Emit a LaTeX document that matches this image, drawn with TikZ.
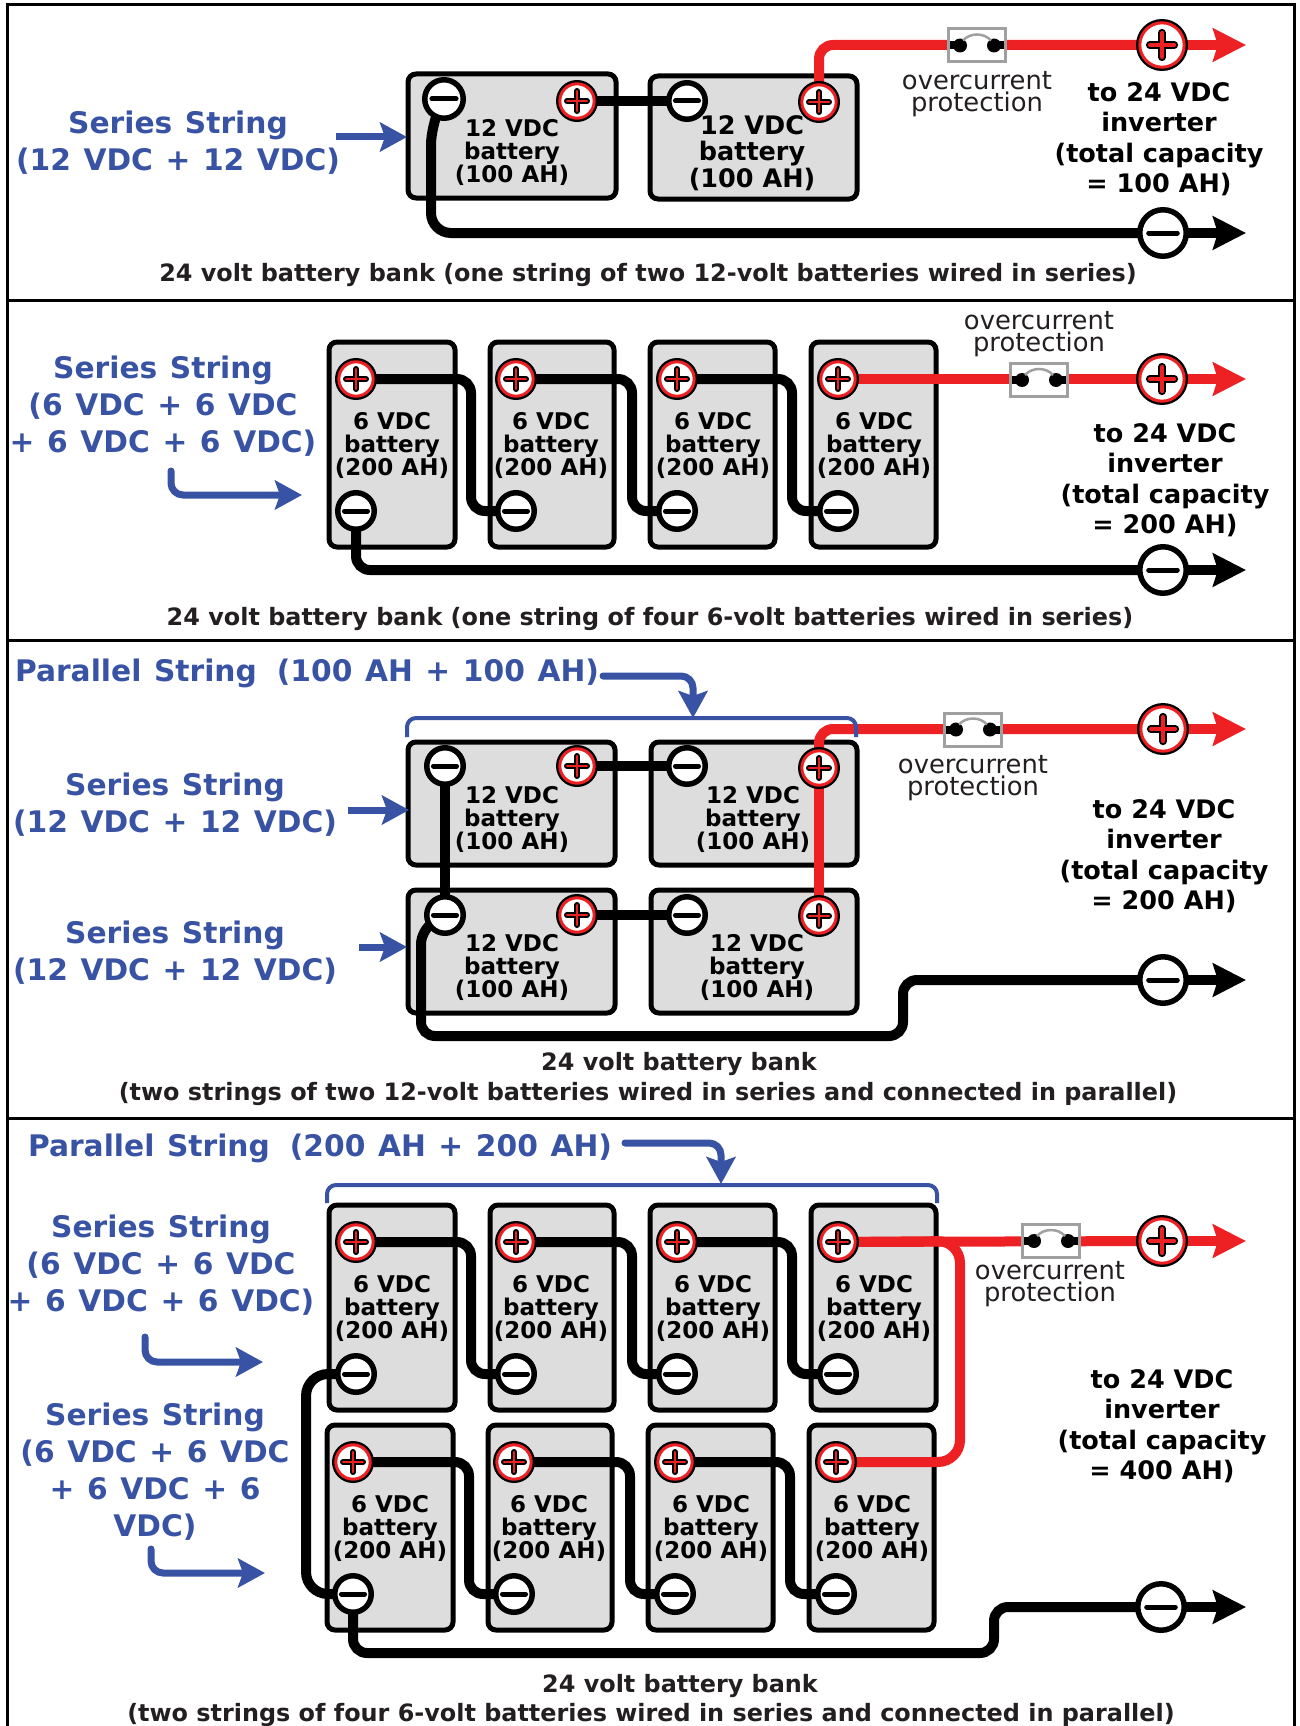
\documentclass[tikz,border=0pt]{standalone}
\usepackage{fontspec}
\usetikzlibrary{arrows.meta}
\setmainfont{DejaVu Sans}
\newfontfamily\medf{DejaVu Sans Bold}
\newcommand\bluespace{\spaceskip=12.6pt\relax}
\definecolor{bluetxt}{HTML}{3953A4}
\definecolor{wirered}{HTML}{ED2024}
\definecolor{battfill}{HTML}{DCDDDC}
\definecolor{inktxt}{HTML}{231F20}
\definecolor{fusegray}{HTML}{A0A0A0}
\pgfdeclarelayer{batt}\pgfdeclarelayer{wires}\pgfsetlayers{batt,wires,main}
\tikzset{
 batterybox/.style={draw=black,fill=battfill,line width=5pt,rounded corners=8pt,inner sep=0pt,outer sep=0pt},
 plusterm/.style={circle,draw=black,fill=white,line width=3pt,inner sep=0pt,outer sep=0pt},
 minusterm/.style={circle,draw=black,fill=white,line width=5.5pt,inner sep=0pt,outer sep=0pt},
 blackwire/.style={draw=black,line width=10pt,rounded corners=14pt},
 redwire/.style={draw=wirered,line width=10pt,rounded corners=14pt},
 blacktip/.style={draw=black,line width=10pt,-{Stealth[length=33pt,width=33pt,inset=5pt]}},
 redtip/.style={draw=wirered,line width=10pt,-{Stealth[length=33pt,width=33pt,inset=5pt]}},
 blueline/.style={draw=bluetxt,line width=7pt,rounded corners=12pt,line cap=round,-{Stealth[length=27pt,width=29pt,inset=5pt]}},
 bracket/.style={draw=bluetxt,line width=4pt,rounded corners=9pt},
 fusebox/.style={rectangle,draw=fusegray,fill=white,line width=3pt,inner sep=0pt,outer sep=0pt},
 frameline/.style={draw=black,line width=3pt},
 battlabel/.style={align=center,text=black,inner sep=0pt,font=\medf\fontsize{23}{23}\selectfont},
 fuselabel/.style={align=center,text=inktxt,inner sep=0pt,font=\fontsize{25.8}{22}\selectfont},
 invlabel/.style={align=center,text=black,inner sep=0pt,font=\medf\fontsize{25.5}{30.5}\selectfont},
 caption/.style={align=center,text=inktxt,inner sep=0pt,font=\medf\fontsize{23.9}{30}\selectfont},
 bluelabel/.style={align=center,text=bluetxt,inner sep=0pt,font=\medf\fontsize{29.7}{37}\selectfont,execute at begin node=\bluespace},
}
\newcommand\Batt[5]{\begin{pgfonlayer}{batt}
 \pgfmathsetmacro\bw{#4-#2-2}\pgfmathsetmacro\bh{#5-#3-2}
 \pgfmathsetmacro\bx{(#2+#4)/2}\pgfmathsetmacro\by{(#3+#5)/2}
 \node[batterybox,minimum width=\bw pt,minimum height=\bh pt] (#1) at (\bx,\by) {};
 \end{pgfonlayer}}
\newcommand\PlusT[4]{%
 \pgfmathsetmacro\ps{2*#4-3}\pgfmathsetmacro\pa{#4*0.47}\pgfmathsetmacro\pr{#4-3.8}\pgfmathsetmacro\pk{#4*0.30}\pgfmathsetmacro\pw{#4*0.14}
 \node[plusterm,minimum size=\ps pt] (#1) at (#2,#3) {};
 \draw[wirered,line width=3pt] (#1.center) circle[radius=\pr pt];
 \draw[black,line width=\pk pt,line cap=round] ([xshift=-\pa pt]#1.center) -- ([xshift=\pa pt]#1.center);
 \draw[black,line width=\pk pt,line cap=round] ([yshift=-\pa pt]#1.center) -- ([yshift=\pa pt]#1.center);
 \draw[wirered,line width=\pw pt,line cap=round] ([xshift=-\pa pt]#1.center) -- ([xshift=\pa pt]#1.center);
 \draw[wirered,line width=\pw pt,line cap=round] ([yshift=-\pa pt]#1.center) -- ([yshift=\pa pt]#1.center);
}
\newcommand\MinusT[4]{%
 \pgfmathsetmacro\ms{2*#4-5.5}\pgfmathsetmacro\ma{#4*0.55}
 \node[minusterm,minimum size=\ms pt] (#1) at (#2,#3) {};
 \draw[black,line width=5pt,line cap=round] ([xshift=-\ma pt]#1.center) -- ([xshift=\ma pt]#1.center);
}
\newcommand\Fuse[3]{%
 \node[fusebox,minimum width=57pt,minimum height=33pt] (#1) at (#2,#3) {};
 \draw[black,line width=8pt] ([xshift=-27pt]#1.center) -- ([xshift=-17pt]#1.center);
 \draw[black,line width=8pt] ([xshift=27pt]#1.center) -- ([xshift=17pt]#1.center);
 \fill[black] ([xshift=-17pt]#1.center) circle[radius=7pt];
 \fill[black] ([xshift=17pt]#1.center) circle[radius=7pt];
 \draw[fusegray,line width=2.5pt] ([xshift=-14pt,yshift=5pt]#1.center) .. controls ([xshift=-7pt,yshift=13pt]#1.center) and ([xshift=7pt,yshift=13pt]#1.center) .. ([xshift=14pt,yshift=5pt]#1.center);
}
\begin{document}
\begin{tikzpicture}[x=1pt,y=-1pt]
\useasboundingbox (0,0) rectangle (1299,1726);
% frame
\coordinate (ftl) at (7,5); \coordinate (ftr) at (1294,5); \coordinate (fbl) at (7,1726); \coordinate (fbr) at (1294,1726);
\draw[frameline] (fbl) -- (ftl) -- (ftr) -- (fbr);
\coordinate (s1l) at (7,300); \coordinate (s1r) at (1294,300);
\coordinate (s2l) at (7,640); \coordinate (s2r) at (1294,640);
\coordinate (s3l) at (7,1118); \coordinate (s3r) at (1296,1118);
\draw[frameline] (s1l) -- (s1r);
\draw[frameline] (s2l) -- (s2r);
\draw[frameline] (s3l) -- (s3r);

% ===== PANEL 1
\Batt{ab1}{407}{73}{617}{199}
\Batt{ab2}{649}{75}{858}{200}
\MinusT{aM1}{444}{99}{22}
\PlusT{aP1}{577}{101}{21}
\MinusT{aM2}{687}{101}{21}
\PlusT{aP2}{819}{102}{21}
\PlusT{aRP}{1162}{45}{26}
\MinusT{aRM}{1163}{233}{26}
\Fuse{aF}{977}{45.5}
\coordinate (aTP) at (1246,45); \coordinate (aTM) at (1246,233);
\begin{pgfonlayer}{wires}
\draw[blackwire] (aP1.center) -- (aM2.center);
\draw[blackwire,rounded corners=20pt] (aM1.center) -- (431,125) -- (431,233) -- (aRM.center);
\draw[redwire] (aP2.center) -- (819,45) -- (aRP.center);
\draw[redtip] (aRP.center) -- (aTP);
\draw[blacktip] (aRM.center) -- (aTM);
\end{pgfonlayer}
\node[battlabel] (at1) at (512,152) {12 VDC\\battery\\(100 AH)};
\node[battlabel,font=\medf\fontsize{25.5}{26.5}\selectfont] (at2) at (752,153) {12 VDC\\battery\\(100 AH)};
\node[fuselabel] (aFl) at (977,94) {overcurrent\\protection};
\node[invlabel] (aInv) at (1159,139) {to 24 VDC\\inverter\\(total capacity\\= 100 AH)};
\node[bluelabel] (aSer) at (178,143) {Series String\\(12 VDC + 12 VDC)};
\coordinate (aAs) at (336,137); \coordinate (aAe) at (407,137);
\draw[blueline,line cap=butt] (aAs) -- (aAe);
\node[caption] (aCap) at (648,275) {24 volt battery bank (one string of two 12-volt batteries wired in series)};

% ===== PANEL 2
\Batt{bb1}{328}{341}{456}{548}
\Batt{bb2}{489}{341}{615}{548}
\Batt{bb3}{649}{341}{776}{548}
\Batt{bb4}{810}{341}{937}{548}
\PlusT{bP1}{356}{379}{21}\PlusT{bP2}{516}{379}{21}\PlusT{bP3}{677}{379}{21}\PlusT{bP4}{838}{379}{21}
\MinusT{bM1}{356}{511}{21}\MinusT{bM2}{516}{511}{21}\MinusT{bM3}{677}{511}{21}\MinusT{bM4}{838}{511}{21}
\PlusT{bRP}{1162}{379}{26}
\MinusT{bRM}{1163}{570}{26}
\Fuse{bF}{1039}{380}
\coordinate (bTP) at (1246,379); \coordinate (bTM) at (1246,570);
\begin{pgfonlayer}{wires}
\draw[blackwire] (bP1.center) -- (471,379) -- (471,511) -- (bM2.center);
\draw[blackwire] (bP2.center) -- (632,379) -- (632,511) -- (bM3.center);
\draw[blackwire] (bP3.center) -- (792,379) -- (792,511) -- (bM4.center);
\draw[redwire] (bP4.center) -- (bRP.center);
\draw[blackwire] (bM1.center) -- (356,570) -- (bRM.center);
\draw[redtip] (bRP.center) -- (bTP);
\draw[blacktip] (bRM.center) -- (bTM);
\end{pgfonlayer}
\node[battlabel] (bt1) at (392,445) {6 VDC\\battery\\(200 AH)};
\node[battlabel] (bt2) at (551,445) {6 VDC\\battery\\(200 AH)};
\node[battlabel] (bt3) at (713,445) {6 VDC\\battery\\(200 AH)};
\node[battlabel] (bt4) at (874,445) {6 VDC\\battery\\(200 AH)};
\node[fuselabel] (bFl) at (1039,334.5) {overcurrent\\protection};
\node[invlabel] (bInv) at (1165,480) {to 24 VDC\\inverter\\(total capacity\\= 200 AH)};
\node[bluelabel] (bSer) at (163,406) {Series String\\(6 VDC + 6 VDC\\+ 6 VDC + 6 VDC)};
\coordinate (bAs) at (171,471); \coordinate (bAe) at (302,495);
\draw[blueline] (bAs) -- (171,495) -- (bAe);
\node[caption] (bCap) at (650,619) {24 volt battery bank (one string of four 6-volt batteries wired in series)};

% ===== PANEL 3
\Batt{cb1}{407}{741}{616}{866}
\Batt{cb2}{650}{741}{858}{866}
\Batt{cb3}{407}{889}{616}{1014}
\Batt{cb4}{650}{889}{858}{1014}
\MinusT{cM1}{445}{766}{21}\PlusT{cP1}{577}{766}{21}\MinusT{cM2}{687}{766}{21}\PlusT{cP2}{819}{768}{21}
\MinusT{cM3}{445}{915}{21}\PlusT{cP3}{577}{915}{21}\MinusT{cM4}{687}{915}{21}\PlusT{cP4}{819}{916}{21}
\PlusT{cRP}{1163}{729}{26}
\MinusT{cRM}{1163}{980}{26}
\Fuse{cF}{973}{729.5}
\coordinate (cTP) at (1246,729); \coordinate (cTM) at (1246,980);
\begin{pgfonlayer}{wires}
\draw[blackwire] (cP1.center) -- (cM2.center);
\draw[blackwire] (cP3.center) -- (cM4.center);
\draw[blackwire] (cM1.center) -- (cM3.center);
\draw[redwire] (cP2.center) -- (819,729) -- (cRP.center);
\draw[redwire] (cP2.center) -- (cP4.center);
\draw[blackwire] (cM3.center) -- (421,930) -- (421,1036) -- (903,1036) -- (903,980) -- (cRM.center);
\draw[redtip] (cRP.center) -- (cTP);
\draw[blacktip] (cRM.center) -- (cTM);
\end{pgfonlayer}
\node[battlabel] (ct1) at (512,819) {12 VDC\\battery\\(100 AH)};
\node[battlabel] (ct2) at (753,819) {12 VDC\\battery\\(100 AH)};
\node[battlabel] (ct3) at (512,967) {12 VDC\\battery\\(100 AH)};
\node[battlabel] (ct4) at (757,967) {12 VDC\\battery\\(100 AH)};
\node[fuselabel] (cFl) at (973,778) {overcurrent\\protection};
\node[invlabel] (cInv) at (1164,856) {to 24 VDC\\inverter\\(total capacity\\= 200 AH)};
\node[bluelabel] (cPar) at (307,673) {Parallel String\hspace{20pt}(100 AH + 100 AH)};
\node[bluelabel] (cS1) at (175,805) {Series String\\(12 VDC + 12 VDC)};
\node[bluelabel] (cS2) at (175,953) {Series String\\(12 VDC + 12 VDC)};
\coordinate (cA1) at (348,810); \coordinate (cA1e) at (409,810);
\coordinate (cA2) at (359,947); \coordinate (cA2e) at (407,947);
\draw[blueline,line cap=butt] (cA1) -- (cA1e);
\draw[blueline,line cap=butt] (cA2) -- (cA2e);
\coordinate (cPs) at (603,676); \coordinate (cPe) at (693,718);
\draw[blueline] (cPs) -- (693,676) -- (cPe);
\coordinate (cB1) at (407,737); \coordinate (cB2) at (856,737);
\draw[bracket] (cB1) -- (407,718) -- (856,718) -- (cB2);
\node[caption] (cCapa) at (679,1064) {24 volt battery bank};
\node[caption] (cCapb) at (648,1094) {(two strings of two 12-volt batteries wired in series and connected in parallel)};

% ===== PANEL 4
\Batt{db1}{328}{1204}{456}{1411}
\Batt{db2}{489}{1204}{615}{1411}
\Batt{db3}{649}{1204}{776}{1411}
\Batt{db4}{810}{1204}{937}{1411}
\Batt{db5}{326}{1424}{454}{1631}
\Batt{db6}{487}{1424}{613}{1631}
\Batt{db7}{647}{1424}{774}{1631}
\Batt{db8}{808}{1424}{935}{1631}
\PlusT{dP1}{356}{1242}{21}\PlusT{dP2}{516}{1242}{21}\PlusT{dP3}{677}{1242}{21}\PlusT{dP4}{838}{1242}{21}
\MinusT{dM1}{356}{1374}{21}\MinusT{dM2}{516}{1374}{21}\MinusT{dM3}{677}{1374}{21}\MinusT{dM4}{838}{1374}{21}
\PlusT{dP5}{353}{1462}{21}\PlusT{dP6}{514}{1462}{21}\PlusT{dP7}{675}{1462}{21}\PlusT{dP8}{836}{1462}{21}
\MinusT{dM5}{353}{1594}{21}\MinusT{dM6}{514}{1594}{21}\MinusT{dM7}{675}{1594}{21}\MinusT{dM8}{836}{1594}{21}
\PlusT{dRP}{1162}{1241}{26}
\MinusT{dRM}{1161}{1607}{26}
\Fuse{dF}{1051}{1241}
\coordinate (dTP) at (1246,1241); \coordinate (dTM) at (1246,1607);
\begin{pgfonlayer}{wires}
\draw[blackwire] (dP1.center) -- (471,1242) -- (471,1374) -- (dM2.center);
\draw[blackwire] (dP2.center) -- (632,1242) -- (632,1374) -- (dM3.center);
\draw[blackwire] (dP3.center) -- (792,1242) -- (792,1374) -- (dM4.center);
\draw[blackwire] (dP5.center) -- (469,1462) -- (469,1594) -- (dM6.center);
\draw[blackwire] (dP6.center) -- (630,1462) -- (630,1594) -- (dM7.center);
\draw[blackwire] (dP7.center) -- (790,1462) -- (790,1594) -- (dM8.center);
\draw[blackwire,rounded corners=22pt] (dM1.center) -- (306,1374) -- (306,1594) -- (dM5.center);
\draw[blackwire] (dM5.center) -- (353,1653) -- (994,1653) -- (994,1607) -- (dRM.center);
\draw[redwire] (dP4.center) -- (dRP.center);
\draw[redwire,rounded corners=22pt] (dP8.center) -- (960,1462) -- (960,1241) -- (dP4.center);
\draw[redtip] (dRP.center) -- (dTP);
\draw[blacktip] (dRM.center) -- (dTM);
\end{pgfonlayer}
\node[battlabel] (dt1) at (392,1308) {6 VDC\\battery\\(200 AH)};
\node[battlabel] (dt2) at (551,1308) {6 VDC\\battery\\(200 AH)};
\node[battlabel] (dt3) at (713,1308) {6 VDC\\battery\\(200 AH)};
\node[battlabel] (dt4) at (874,1308) {6 VDC\\battery\\(200 AH)};
\node[battlabel] (dt5) at (390,1528) {6 VDC\\battery\\(200 AH)};
\node[battlabel] (dt6) at (549,1528) {6 VDC\\battery\\(200 AH)};
\node[battlabel] (dt7) at (711,1528) {6 VDC\\battery\\(200 AH)};
\node[battlabel] (dt8) at (872,1528) {6 VDC\\battery\\(200 AH)};
\node[fuselabel] (dFl) at (1050,1284.5) {overcurrent\\protection};
\node[invlabel] (dInv) at (1162,1426) {to 24 VDC\\inverter\\(total capacity\\= 400 AH)};
\node[bluelabel] (dPar) at (320,1148) {Parallel String\hspace{20pt}(200 AH + 200 AH)};
\node[bluelabel] (dS1) at (161,1265) {Series String\\(6 VDC + 6 VDC\\+ 6 VDC + 6 VDC)};
\node[bluelabel] (dS2) at (155,1472) {Series String\\(6 VDC + 6 VDC\\+ 6 VDC + 6\\VDC)};
\coordinate (dAs) at (145,1337); \coordinate (dAe) at (263,1362);
\draw[blueline] (dAs) -- (145,1362) -- (dAe);
\coordinate (dBs) at (151,1549); \coordinate (dBe) at (265,1573);
\draw[blueline] (dBs) -- (151,1573) -- (dBe);
\coordinate (dPs) at (625,1143); \coordinate (dPe) at (721,1184);
\draw[blueline] (dPs) -- (721,1143) -- (dPe);
\coordinate (dB1) at (327,1203); \coordinate (dB2) at (937,1203);
\draw[bracket] (dB1) -- (327,1185) -- (937,1185) -- (dB2);
\node[caption] (dCapa) at (680,1686) {24 volt battery bank};
\node[caption] (dCapb) at (651,1715) {(two strings of four 6-volt batteries wired in series and connected in parallel)};
\end{tikzpicture}
\end{document}
